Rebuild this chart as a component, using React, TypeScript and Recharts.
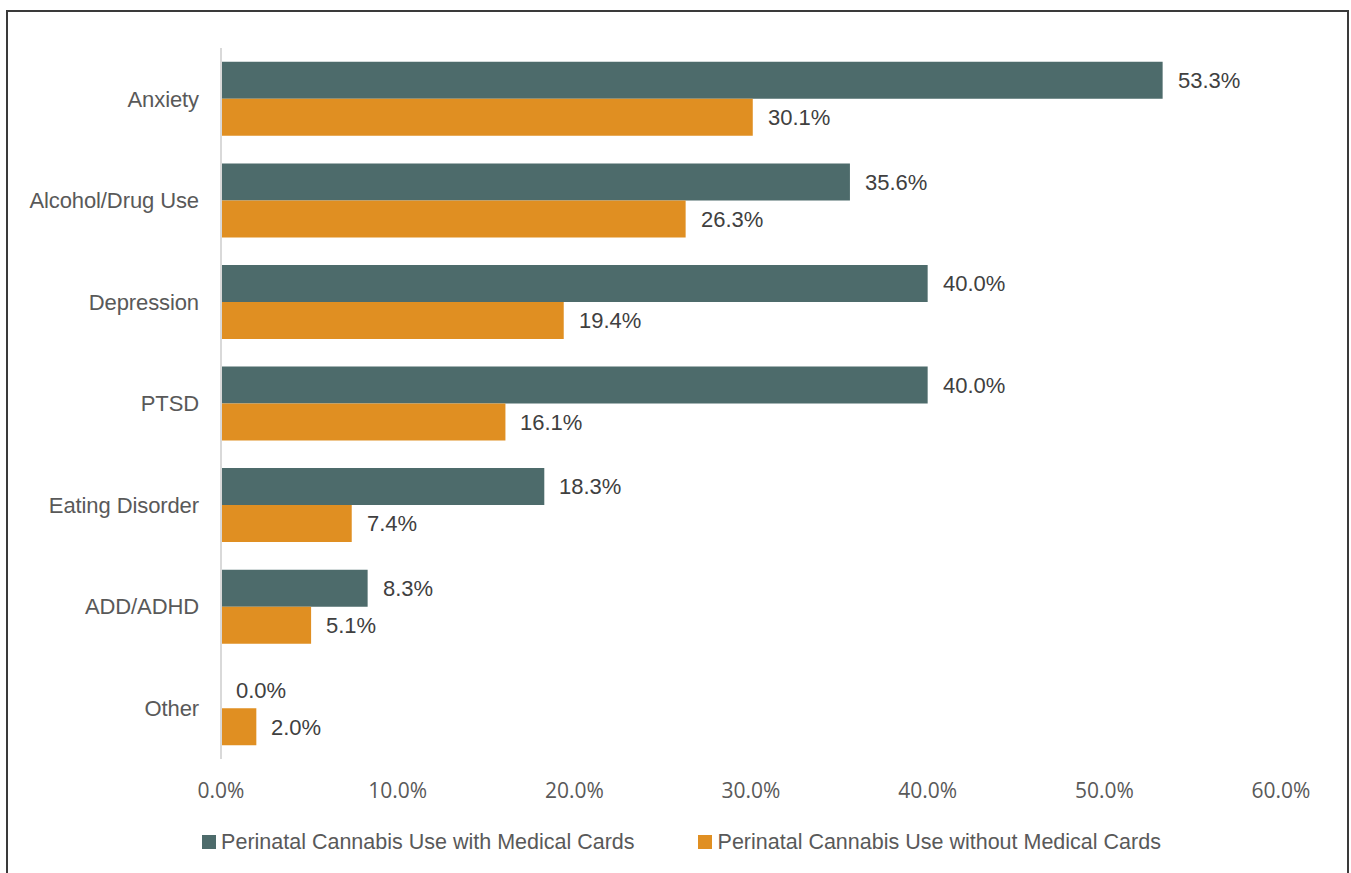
import React from "react";
import { BarChart, Bar, XAxis, YAxis, Legend, LabelList } from "recharts";

const categories = ["Anxiety", "Alcohol/Drug Use", "Depression", "PTSD", "Eating Disorder", "ADD/ADHD", "Other"];
const withCards = [53.3, 35.6, 40.0, 40.0, 18.3, 8.3, 0.0];
const withoutCards = [30.1, 26.3, 19.4, 16.1, 7.4, 5.1, 2.0];
const xTicks = [0, 10, 20, 30, 40, 50, 60];
const seriesNames = ["Perinatal Cannabis Use with Medical Cards", "Perinatal Cannabis Use without Medical Cards"];

const data = categories.map((name, i) => ({ name, withCards: withCards[i], withoutCards: withoutCards[i] }));

const TEAL = "#4d6b6b";
const ORANGE = "#e08f22";
const FONT = "'Liberation Sans', Arial, sans-serif";
const pct = (v: any) => Number(v).toFixed(1) + "%";

const ValueLabel = (props: any) => {
  const { x, y, width, height, value } = props;
  if (value == null) return null;
  return (
    <text
      x={Number(x) + Math.round(Number(width || 0)) + 15}
      y={Number(y) + Number(height) / 2}
      dy="0.355em"
      textAnchor="start"
      fill="#404040"
      fontSize={22}
      fontFamily={FONT}
    >
      {pct(value)}
    </text>
  );
};

const LegendContent = () => (
  <div
    style={{
      display: "flex",
      justifyContent: "center",
      gap: 63,
      paddingLeft: 12,
      fontFamily: FONT,
      fontSize: 21.5,
      color: "#595959",
      lineHeight: "24px",
    }}
  >
    {seriesNames.map((n, i) => (
      <div key={n} style={{ display: "flex", alignItems: "center" }}>
        <span style={{ width: 14, height: 14, background: i === 0 ? TEAL : ORANGE, marginRight: i === 0 ? 5 : 6, display: "inline-block" }} />
        <span>{n}</span>
      </div>
    ))}
  </div>
);

export default function App() {
  return (
    <div style={{ position: "absolute", left: 0, top: 0, width: 1351, height: 873, background: "#fff", overflow: "hidden" }}>
      <div
        style={{
          position: "absolute",
          left: 6,
          top: 10,
          width: 1343,
          height: 880,
          border: "2px solid #3a3a3a",
          boxSizing: "border-box",
        }}
      />
      <div style={{ position: "absolute", left: 0, top: 0 }}>
        <BarChart
          width={1351}
          height={873}
          data={data}
          layout="vertical"
          margin={{ top: 48, right: 70, bottom: 27, left: 0 }}
          barCategoryGap="13.6%"
          barGap={0}
        >
          <XAxis
            type="number"
            domain={[0, 60]}
            ticks={xTicks}
            tickFormatter={pct}
            axisLine={false}
            tickLine={false}
            tickMargin={18}
            height={63}
            tick={{ fill: "#595959", fontSize: 21, fontFamily: "'Open Sans', sans-serif" }}
          />
          <YAxis
            type="category"
            dataKey="name"
            width={221}
            axisLine={{ stroke: "#d9d9d9", strokeWidth: 2 }}
            tickLine={false}
            tickMargin={16}
            tick={{ fill: "#595959", fontSize: 22, fontFamily: FONT, letterSpacing: -0.1 }}
          />
          <Legend
            verticalAlign="bottom"
            content={<LegendContent />}
            wrapperStyle={{ left: 0, width: 1351, top: 830, bottom: "auto" }}
          />
          <Bar dataKey="withCards" name={seriesNames[0]} fill={TEAL} minPointSize={0.01} isAnimationActive={false}>
            <LabelList dataKey="withCards" content={<ValueLabel />} />
          </Bar>
          <Bar dataKey="withoutCards" name={seriesNames[1]} fill={ORANGE} isAnimationActive={false}>
            <LabelList dataKey="withoutCards" content={<ValueLabel />} />
          </Bar>
        </BarChart>
      </div>
    </div>
  );
}
